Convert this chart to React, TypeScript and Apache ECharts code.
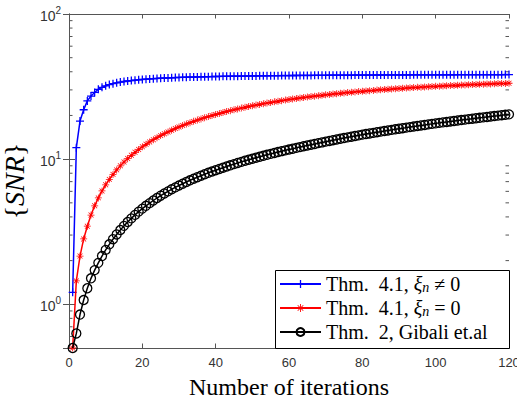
import React, { useEffect, useRef } from "react";
import * as echarts from "echarts";

const iterations = [
  1, 2, 3, 4, 5, 6, 7, 8, 9, 10, 11, 12, 13, 14, 15, 16, 17, 18, 19, 20,
  21, 22, 23, 24, 25, 26, 27, 28, 29, 30, 31, 32, 33, 34, 35, 36, 37, 38, 39, 40,
  41, 42, 43, 44, 45, 46, 47, 48, 49, 50, 51, 52, 53, 54, 55, 56, 57, 58, 59, 60,
  61, 62, 63, 64, 65, 66, 67, 68, 69, 70, 71, 72, 73, 74, 75, 76, 77, 78, 79, 80,
  81, 82, 83, 84, 85, 86, 87, 88, 89, 90, 91, 92, 93, 94, 95, 96, 97, 98, 99, 100,
  101, 102, 103, 104, 105, 106, 107, 108, 109, 110, 111, 112, 113, 114, 115, 116, 117, 118, 119, 120,
];

const snrThm41NonZero = [
  1.21, 12.0, 18.3, 21.9, 25.2, 27.2, 28.8, 30.3, 31.24, 32.0,
  32.62, 33.13, 33.57, 33.94, 34.27, 34.55, 34.8, 35.02, 35.22, 35.4,
  35.56, 35.71, 35.84, 35.97, 36.08, 36.18, 36.28, 36.37, 36.46, 36.53,
  36.61, 36.68, 36.74, 36.8, 36.86, 36.91, 36.96, 37.01, 37.06, 37.1,
  37.14, 37.18, 37.22, 37.25, 37.29, 37.32, 37.35, 37.38, 37.41, 37.44,
  37.47, 37.49, 37.52, 37.54, 37.56, 37.59, 37.61, 37.63, 37.65, 37.67,
  37.69, 37.7, 37.72, 37.74, 37.75, 37.77, 37.79, 37.8, 37.81, 37.83,
  37.84, 37.86, 37.87, 37.88, 37.89, 37.91, 37.92, 37.93, 37.94, 37.95,
  37.96, 37.97, 37.98, 37.99, 38.0, 38.01, 38.02, 38.03, 38.04, 38.04,
  38.05, 38.06, 38.07, 38.08, 38.08, 38.09, 38.1, 38.11, 38.11, 38.12,
  38.13, 38.13, 38.14, 38.15, 38.15, 38.16, 38.16, 38.17, 38.18, 38.18,
  38.19, 38.19, 38.2, 38.2, 38.21, 38.21, 38.22, 38.22, 38.23, 38.23,
];

const snrThm41Zero = [
  0.5, 1.45, 2.15, 2.82, 3.45, 4.12, 4.77, 5.41, 6.04, 6.66,
  7.26, 7.85, 8.43, 9.0, 9.55, 10.1, 10.63, 11.15, 11.66, 12.17,
  12.66, 13.14, 13.61, 14.07, 14.53, 14.97, 15.4, 15.83, 16.25, 16.66,
  17.06, 17.45, 17.84, 18.21, 18.58, 18.94, 19.3, 19.65, 19.99, 20.32,
  20.65, 20.97, 21.28, 21.59, 21.89, 22.18, 22.47, 22.76, 23.03, 23.31,
  23.57, 23.83, 24.09, 24.34, 24.59, 24.83, 25.06, 25.29, 25.52, 25.74,
  25.96, 26.17, 26.38, 26.59, 26.79, 26.98, 27.17, 27.36, 27.55, 27.73,
  27.91, 28.08, 28.25, 28.42, 28.58, 28.74, 28.9, 29.05, 29.2, 29.35,
  29.49, 29.63, 29.77, 29.91, 30.04, 30.17, 30.3, 30.42, 30.55, 30.67,
  30.78, 30.9, 31.01, 31.12, 31.23, 31.34, 31.44, 31.55, 31.65, 31.74,
  31.84, 31.94, 32.03, 32.12, 32.21, 32.29, 32.38, 32.46, 32.54, 32.62,
  32.7, 32.78, 32.85, 32.93, 33.0, 33.07, 33.14, 33.21, 33.27, 33.34,
];

const snrGibali = [
  0.5, 0.63, 0.85, 1.07, 1.29, 1.51, 1.72, 1.93, 2.15, 2.37,
  2.59, 2.81, 3.03, 3.25, 3.47, 3.69, 3.91, 4.13, 4.35, 4.56,
  4.77, 4.98, 5.19, 5.4, 5.6, 5.8, 6.0, 6.2, 6.39, 6.58,
  6.77, 6.96, 7.15, 7.33, 7.51, 7.69, 7.87, 8.05, 8.22, 8.39,
  8.56, 8.73, 8.9, 9.07, 9.24, 9.41, 9.58, 9.75, 9.91, 10.07,
  10.23, 10.39, 10.55, 10.71, 10.87, 11.03, 11.19, 11.35, 11.5, 11.65,
  11.8, 11.96, 12.11, 12.27, 12.42, 12.58, 12.73, 12.89, 13.04, 13.2,
  13.35, 13.51, 13.66, 13.82, 13.97, 14.13, 14.28, 14.44, 14.59, 14.75,
  14.89, 15.04, 15.18, 15.33, 15.47, 15.62, 15.76, 15.91, 16.05, 16.2,
  16.34, 16.49, 16.63, 16.78, 16.92, 17.07, 17.21, 17.36, 17.5, 17.65,
  17.78, 17.92, 18.05, 18.19, 18.32, 18.46, 18.59, 18.73, 18.86, 19.0,
  19.13, 19.27, 19.4, 19.54, 19.67, 19.81, 19.94, 20.08, 20.21, 20.35,
];

const minorTickValues = [0.6, 0.7, 0.8, 0.9, 2, 3, 4, 5, 6, 7, 8, 9, 20, 30, 40, 50, 60, 70, 80, 90];

const seriesNames = ["Thm. 4.1, ξn ≠ 0", "Thm. 4.1, ξn = 0", "Thm. 2, Gibali et.al"];
const legendRich = [
  "Thm.  4.1, {i|ξ}{sub|n} ≠ 0",
  "Thm.  4.1, {i|ξ}{sub|n} = 0",
  "Thm.  2, Gibali et.al",
];

const X_MIN = 0;
const X_MAX = 120;
const Y_MIN = 0.5;
const Y_MAX = 100;

const PLUS_PATH = "path://M4.2,0H5.8V4.2H10V5.8H5.8V10H4.2V5.8H0V4.2H4.2Z";
const STAR_PATH =
  "path://M4.45,0H5.55V4.45H10V5.55H5.55V10H4.45V5.55H0V4.45H4.45Z" +
  "M1.15,1.85L1.85,1.15L8.85,8.15L8.15,8.85Z" +
  "M8.15,1.15L8.85,1.85L1.85,8.85L1.15,8.15Z";

const AXIS_COLOR = "#555555";
const LABEL_COLOR = "#333333";
const SERIF = "Liberation Serif";
const SANS = "Liberation Sans";

export default function App() {
  const ref = useRef<HTMLDivElement | null>(null);

  useEffect(() => {
    if (!ref.current) return;
    const chart = echarts.init(ref.current, null, { renderer: "svg" });

    const pairs = (vals: number[]) => iterations.map((x, i) => [x, vals[i]]);

    const yLabelFormatter = (v: number) => {
      const l = Math.log10(v);
      const e = Math.round(l);
      if (Math.abs(l - e) > 1e-6) return "";
      return `{b|10}{sup|${e}}`;
    };

    const option: any = {
      animation: false,
      backgroundColor: "#ffffff",
      grid: {
        left: 69,
        right: 8,
        top: 14,
        bottom: 51,
        containLabel: false,
        outerBoundsMode: "none",
      },
      xAxis: [
        {
          type: "value",
          position: "bottom",
          min: X_MIN,
          max: X_MAX,
          interval: 20,
          axisLine: { show: true, lineStyle: { color: AXIS_COLOR, width: 1 } },
          axisTick: { show: true, inside: true, length: 4.5, lineStyle: { color: AXIS_COLOR } },
          axisLabel: { show: true, fontFamily: SANS, fontSize: 13, color: LABEL_COLOR, margin: 8 },
          splitLine: { show: false },
          name: "Number of iterations",
          nameLocation: "middle",
          nameGap: 27,
          nameTextStyle: { fontFamily: SERIF, fontSize: 24, color: "#000" },
        },
        {
          type: "value",
          position: "top",
          min: X_MIN,
          max: X_MAX,
          interval: 20,
          axisLine: { show: true, lineStyle: { color: AXIS_COLOR, width: 1 } },
          axisTick: { show: true, inside: true, length: 4.5, lineStyle: { color: AXIS_COLOR } },
          axisLabel: { show: false },
          splitLine: { show: false },
        },
      ],
      yAxis: [
        {
          type: "log",
          logBase: 10,
          position: "left",
          min: Y_MIN,
          max: Y_MAX,
          axisLine: { show: true, lineStyle: { color: AXIS_COLOR, width: 1 } },
          axisTick: { show: true, inside: true, length: 6, lineStyle: { color: AXIS_COLOR } },
          axisLabel: {
            show: true,
            formatter: yLabelFormatter,
            fontFamily: SANS,
            fontSize: 14,
            color: LABEL_COLOR,
            margin: 8,
            rich: {
              b: { fontFamily: SANS, fontSize: 14, color: LABEL_COLOR, padding: [4, 0, 0, 0] },
              sup: { fontFamily: SANS, fontSize: 10, color: LABEL_COLOR, verticalAlign: "top" },
            },
          },
          splitLine: { show: false },
          name: "{{i|SNR}}",
          nameLocation: "middle",
          nameRotate: 90,
          nameGap: 27,
          nameTextStyle: {
            fontFamily: SERIF,
            fontSize: 28,
            color: "#000",
            rich: { i: { fontFamily: SERIF, fontStyle: "italic", fontSize: 28, color: "#000" } },
          },
        },
        {
          type: "log",
          logBase: 10,
          position: "right",
          min: Y_MIN,
          max: Y_MAX,
          axisLine: { show: true, lineStyle: { color: AXIS_COLOR, width: 1 } },
          axisTick: { show: true, inside: true, length: 6, lineStyle: { color: AXIS_COLOR } },
          axisLabel: { show: false },
          splitLine: { show: false },
        },
      ],
      legend: {
        orient: "vertical",
        left: 279,
        top: 274,
        padding: 0,
        itemWidth: 41,
        itemHeight: 10,
        itemGap: 4,
        z: 4,
        data: seriesNames,
        formatter: (name: string) => legendRich[seriesNames.indexOf(name)],
        textStyle: {
          fontFamily: SERIF,
          fontSize: 20,
          lineHeight: 20,
          color: "#000",
          rich: {
            i: { fontFamily: SERIF, fontStyle: "italic", fontSize: 20, color: "#000" },
            sub: { fontFamily: SERIF, fontStyle: "italic", fontSize: 14, color: "#000", verticalAlign: "bottom" },
          },
        },
      },
      graphic: [
        {
          type: "rect",
          left: 275,
          top: 270,
          z: 3,
          shape: { width: 234, height: 78 },
          style: { fill: "#ffffff", stroke: "#000000", lineWidth: 1 },
        },
      ],
      series: [
        {
          name: "minor ticks",
          type: "custom",
          xAxisIndex: 0,
          yAxisIndex: 0,
          silent: true,
          data: minorTickValues.map((v) => [X_MIN, v]),
          encode: { x: 0, y: 1 },
          renderItem: (params: any, api: any) => {
            const v = api.value(1);
            const pL = api.coord([X_MIN, v]);
            const pR = api.coord([X_MAX, v]);
            return {
              type: "group",
              children: [
                {
                  type: "line",
                  shape: { x1: pL[0], y1: pL[1], x2: pL[0] + 3.5, y2: pL[1] },
                  style: { stroke: AXIS_COLOR, lineWidth: 1 },
                },
                {
                  type: "line",
                  shape: { x1: pR[0], y1: pR[1], x2: pR[0] - 3.5, y2: pR[1] },
                  style: { stroke: AXIS_COLOR, lineWidth: 1 },
                },
              ],
            };
          },
        },
        {
          name: seriesNames[0],
          type: "line",
          data: pairs(snrThm41NonZero),
          symbol: PLUS_PATH,
          symbolSize: 8,
          showSymbol: true,
          clip: false,
          lineStyle: { color: "#0000ff", width: 1.5 },
          itemStyle: { color: "#0000ff" },
          z: 2,
        },
        {
          name: seriesNames[1],
          type: "line",
          data: pairs(snrThm41Zero),
          symbol: STAR_PATH,
          symbolSize: 7,
          showSymbol: true,
          clip: false,
          lineStyle: { color: "#ff0000", width: 1.5 },
          itemStyle: { color: "#ff0000" },
          z: 3,
        },
        {
          name: seriesNames[2],
          type: "line",
          data: pairs(snrGibali),
          symbol: "circle",
          symbolSize: 9,
          showSymbol: true,
          clip: false,
          lineStyle: { color: "#000000", width: 1.5 },
          itemStyle: { color: "rgba(255,255,255,0)", borderColor: "#000000", borderWidth: 1.3 },
          z: 4,
        },
      ],
    };

    chart.setOption(option);
    return () => chart.dispose();
  }, []);

  return (
    <div
      ref={ref}
      style={{ position: "fixed", left: 0, top: 0, width: 517, height: 399, background: "#fff" }}
    />
  );
}
